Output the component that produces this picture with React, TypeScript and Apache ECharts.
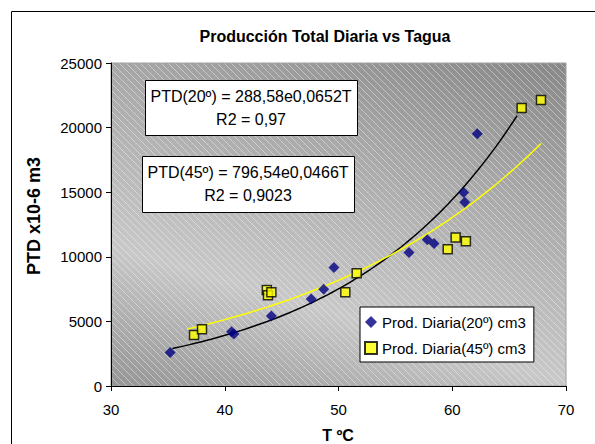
import React, { useEffect, useRef } from "react";
import * as echarts from "echarts";

// ---- data ----
const seriesNames = ["Prod. Diaria(20º) cm3", "Prod. Diaria(45º) cm3"];

const temp20 = [35.2, 40.6, 40.8, 44.1, 47.6, 48.7, 49.6, 56.2, 57.8, 58.4, 61.0, 61.1, 62.2];
const prod20 = [2600, 4200, 4030, 5420, 6740, 7490, 9170, 10330, 11310, 11030, 14980, 14230, 19520];

const temp45 = [37.3, 38.0, 43.7, 43.8, 44.1, 50.6, 51.6, 59.6, 60.3, 61.2, 66.1, 67.8];
const prod45 = [3950, 4390, 7440, 7020, 7260, 7260, 8730, 10590, 11490, 11210, 21510, 22130];

// exponential trend lines as printed on the chart: PTD = a * e^(b*T)
const trendA = [288.58, 796.54];
const trendB = [0.0652, 0.0466];
const trendFrom = [35.4, 36.7];
const trendTo = [65.7, 67.8];

const eqLine1 = ["PTD(20º) = 288,58e0,0652T", "PTD(45º) = 796,54e0,0466T"];
const eqLine2 = ["R2 = 0,97", "R2 = 0,9023"];

const titleText = "Producción Total Diaria vs Tagua";
const xName = "T ºC";
const yName = "PTD x10-6 m3";

const xMin = 30, xMax = 70, xStep = 10;
const yMin = 0, yMax = 25000, yStep = 5000;

function trendPoints(i: number): number[][] {
  const pts: number[][] = [];
  const n = 80;
  for (let k = 0; k <= n; k++) {
    const t = trendFrom[i] + ((trendTo[i] - trendFrom[i]) * k) / n;
    pts.push([t, trendA[i] * Math.exp(trendB[i] * t)]);
  }
  return pts;
}

export default function App() {
  const ref = useRef<HTMLDivElement>(null);

  useEffect(() => {
    const el = ref.current!;
    const chart = echarts.init(el, null, { renderer: "svg" });
    const FONT = '"Liberation Sans", Arial, sans-serif';
    const G = { l: 111, t: 63, r: 566, b: 386 };

    // diagonal hatch tile
    const tile = 7;
    const cv = document.createElement("canvas");
    cv.width = tile;
    cv.height = tile;
    const ctx = cv.getContext("2d")!;
    ctx.strokeStyle = "rgba(255,255,255,0.40)";
    ctx.lineWidth = 1;
    ctx.beginPath();
    ctx.moveTo(-1, -1);
    ctx.lineTo(tile + 1, tile + 1);
    ctx.moveTo(-1, tile - 1);
    ctx.lineTo(1, tile + 1);
    ctx.moveTo(tile - 1, -1);
    ctx.lineTo(tile + 1, 1);
    ctx.stroke();

    const bgGradient = new echarts.graphic.LinearGradient(
      292.7, 468.3, 435.7, -10.7,
      [
        { offset: 0, color: "#8a8a8a" },
        { offset: 0.32, color: "#c8c8c8" },
        { offset: 0.66, color: "#a8a8a8" },
        { offset: 1, color: "#808080" },
      ],
      true
    );

    const boxes = [
      { x: 145, y: 80, w: 212, h: 55 },
      { x: 142, y: 156, w: 212, h: 56 },
    ];

    const graphics: any[] = [
      {
        type: "rect",
        z: -2,
        silent: true,
        shape: { x: G.l, y: G.t, width: G.r - G.l, height: G.b - G.t },
        style: { fill: bgGradient },
      },
      {
        type: "rect",
        z: -1,
        silent: true,
        shape: { x: G.l, y: G.t, width: G.r - G.l, height: G.b - G.t },
        style: { fill: { image: cv, repeat: "repeat", imageWidth: tile, imageHeight: tile } },
      },
      {
        type: "rect",
        z: 10,
        silent: true,
        shape: { x: 11.5, y: 11.5, width: 700, height: 500 },
        style: { fill: "none", stroke: "#000", lineWidth: 1 },
      },
      {
        type: "text",
        z: 10,
        x: 325,
        y: 36,
        style: {
          text: titleText,
          fontFamily: FONT,
          fontSize: 16,
          fontWeight: "bold",
          fill: "#000",
          textAlign: "center",
          textVerticalAlign: "middle",
        },
      },
      {
        type: "text",
        z: 10,
        x: 34,
        y: 216,
        rotation: Math.PI / 2,
        style: {
          text: yName,
          fontFamily: FONT,
          fontSize: 18,
          fontWeight: "bold",
          fill: "#000",
          textAlign: "center",
          textVerticalAlign: "middle",
        },
      },
      {
        type: "text",
        z: 10,
        x: 338,
        y: 435,
        style: {
          text: xName,
          fontFamily: FONT,
          fontSize: 16,
          fontWeight: "bold",
          fill: "#000",
          textAlign: "center",
          textVerticalAlign: "middle",
        },
      },
    ];

    boxes.forEach((b, i) => {
      graphics.push({
        type: "rect",
        z: 10,
        silent: true,
        shape: { x: b.x + 0.5, y: b.y + 0.5, width: b.w, height: b.h },
        style: { fill: "#fff", stroke: "#000", lineWidth: 1 },
      });
      graphics.push({
        type: "text",
        z: 11,
        x: b.x + b.w / 2,
        y: b.y + 16,
        style: {
          text: eqLine1[i],
          fontFamily: FONT,
          fontSize: 16,
          fill: "#000",
          textAlign: "center",
          textVerticalAlign: "middle",
        },
      });
      graphics.push({
        type: "text",
        z: 11,
        x: b.x + b.w / 2,
        y: b.y + 39,
        style: {
          text: eqLine2[i],
          fontFamily: FONT,
          fontSize: 16,
          fill: "#000",
          textAlign: "center",
          textVerticalAlign: "middle",
        },
      });
    });

    const option: any = {
      animation: false,
      backgroundColor: "#fff",
      textStyle: { fontFamily: FONT },
      grid: {
        left: G.l,
        top: G.t,
        width: G.r - G.l,
        height: G.b - G.t,
        show: true,
        backgroundColor: "transparent",
        borderColor: "#a0a0a0",
        borderWidth: 1,
      },
      xAxis: {
        type: "value",
        min: xMin,
        max: xMax,
        interval: xStep,
        axisLine: { show: true, onZero: false, lineStyle: { color: "#000", width: 1 } },
        axisTick: { show: true, length: 5, lineStyle: { color: "#000" } },
        axisLabel: {
          color: "#000",
          fontSize: 15,
          margin: 16,
          fontFamily: FONT,
          formatter: (v: number) => String(v),
        },
        splitLine: { show: false },
      },
      yAxis: {
        type: "value",
        min: yMin,
        max: yMax,
        interval: yStep,
        axisLine: { show: true, lineStyle: { color: "#000", width: 1 } },
        axisTick: { show: true, length: 5, lineStyle: { color: "#000" } },
        axisLabel: {
          color: "#000",
          fontSize: 15,
          margin: 9,
          fontFamily: FONT,
          formatter: (v: number) => String(v),
        },
        splitLine: { show: false },
      },
      legend: {
        data: seriesNames,
        orient: "vertical",
        left: 360,
        top: 307,
        padding: [7, 8, 6, 4],
        itemGap: 10,
        itemWidth: 12,
        itemHeight: 12,
        backgroundColor: "#fff",
        borderColor: "#000",
        borderWidth: 1,
        borderRadius: 0,
        textStyle: { color: "#000", fontSize: 15, fontFamily: FONT, lineHeight: 16 },
      },
      graphic: graphics,
      series: [
        {
          name: "trend20",
          type: "line",
          data: trendPoints(0),
          showSymbol: false,
          symbol: "none",
          silent: true,
          z: 2,
          lineStyle: { color: "#000", width: 1.5 },
        },
        {
          name: "trend45",
          type: "line",
          data: trendPoints(1),
          showSymbol: false,
          symbol: "none",
          silent: true,
          z: 2,
          lineStyle: { color: "#ffff00", width: 1.5 },
        },
        {
          name: seriesNames[0],
          type: "scatter",
          z: 3,
          symbol: "diamond",
          symbolSize: 11,
          itemStyle: { color: "#000080" },
          data: temp20.map((t, i) => [t, prod20[i]]),
        },
        {
          name: seriesNames[1],
          type: "scatter",
          z: 3,
          symbol: "rect",
          symbolSize: 9,
          itemStyle: { color: "#ffff00", borderColor: "#000", borderWidth: 1.5 },
          data: temp45.map((t, i) => [t, prod45[i]]),
        },
      ],
    };

    chart.setOption(option);
    return () => chart.dispose();
  }, []);

  return (
    <div
      ref={ref}
      style={{ position: "fixed", left: 0, top: 0, width: 595, height: 444 }}
    />
  );
}
